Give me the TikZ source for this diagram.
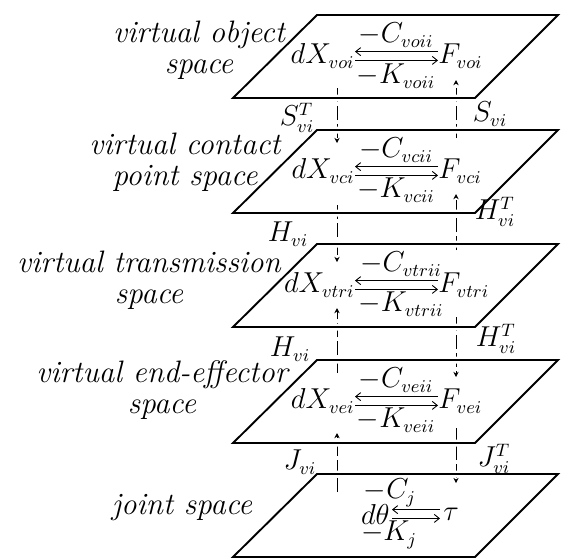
\documentclass[tikz,border=0pt]{standalone}
\usetikzlibrary{arrows.meta}
\begin{document}
\begin{tikzpicture}[x=0.5pt,y=-0.5pt,
  plane/.style={line width=0.95pt,line join=miter,preaction={draw=white,line width=3.5pt}},
  conn/.style={line width=0.5pt,dash pattern=on 7pt off 2pt,-{Stealth[length=2.6pt,width=2.6pt]}},
  pair/.style={line width=0.45pt,-{Straight Barb[length=2.5pt,width=4pt]}},
  lbl/.style={font=\fontsize{15.5}{15.5}\selectfont\itshape,align=center,inner sep=0pt},
  mth/.style={font=\fontsize{13.5}{15}\selectfont,inner sep=0pt},
]
\useasboundingbox (0,0) rectangle (568,559);

% connector end points
\coordinate (sTa) at (337,88);  \coordinate (sTb) at (337,143);
\coordinate (sa)  at (456,138); \coordinate (sb)  at (456,80);
\coordinate (h1a) at (337,205); \coordinate (h1b) at (337,262);
\coordinate (hT1a) at (456,250); \coordinate (hT1b) at (456,194);
\coordinate (h2a) at (337,373); \coordinate (h2b) at (337,308);
\coordinate (hT2a) at (456,317); \coordinate (hT2b) at (456,377);
\coordinate (ja)  at (337,492); \coordinate (jb)  at (337,433);
\coordinate (jTa) at (456,428); \coordinate (jTb) at (456,483);

\draw[conn] (sTa) -- (sTb);
\draw[conn] (sa) -- (sb);
\draw[conn] (h1a) -- (h1b);
\draw[conn] (hT1a) -- (hT1b);
\draw[conn] (h2a) -- (h2b);
\draw[conn] (hT2a) -- (hT2b);
\draw[conn] (ja) -- (jb);
\draw[conn] (jTa) -- (jTb);

% planes
\foreach \t in {15,130,244,360,474}{
  \draw[plane] (233,\t+83) -- (475,\t+83) -- (558,\t) -- (317,\t) -- cycle;
}

% space labels
\node[lbl] (l1) at (199,50) {virtual object\\space};
\node[lbl] (l2) at (185,162) {virtual contact\\point space};
\node[lbl] (l3) at (149,280) {virtual transmission\\space};
\node[lbl] (l4) at (162,390) {virtual end-effector\\space};
\node[lbl] (l5) at (182,508) {joint space};

% plane 1
\node[mth] (c1) at (396,35) {$-C_{voii}$};
\node[mth,anchor=east] (x1) at (355,56) {$dX_{voi}$};
\node[mth,anchor=west] (f1) at (438,56) {$F_{voi}$};
\node[mth] (k1) at (396,76) {$-K_{voii}$};
\draw[pair] ([yshift=2.2pt]f1.west) -- ([yshift=2.2pt]x1.east);
\draw[pair] ([yshift=-2.2pt]x1.east) -- ([yshift=-2.2pt]f1.west);

% plane 2
\node[mth] (c2) at (396,150) {$-C_{vcii}$};
\node[mth,anchor=east] (x2) at (355,171) {$dX_{vci}$};
\node[mth,anchor=west] (f2) at (438,171) {$F_{vci}$};
\node[mth] (k2) at (396,190) {$-K_{vcii}$};
\draw[pair] ([yshift=2.2pt]f2.west) -- ([yshift=2.2pt]x2.east);
\draw[pair] ([yshift=-2.2pt]x2.east) -- ([yshift=-2.2pt]f2.west);

% plane 3
\node[mth] (c3) at (401,264) {$-C_{vtrii}$};
\node[mth,anchor=east] (x3) at (355,285) {$dX_{vtri}$};
\node[mth,anchor=west] (f3) at (438,285) {$F_{vtri}$};
\node[mth] (k3) at (401,304) {$-K_{vtrii}$};
\draw[pair] ([yshift=2.2pt]f3.west) -- ([yshift=2.2pt]x3.east);
\draw[pair] ([yshift=-2.2pt]x3.east) -- ([yshift=-2.2pt]f3.west);

% plane 4
\node[mth] (c4) at (396,380) {$-C_{veii}$};
\node[mth,anchor=east] (x4) at (355,401) {$dX_{vei}$};
\node[mth,anchor=west] (f4) at (438,401) {$F_{vei}$};
\node[mth] (k4) at (396,420) {$-K_{veii}$};
\draw[pair] ([yshift=2.2pt]f4.west) -- ([yshift=2.2pt]x4.east);
\draw[pair] ([yshift=-2.2pt]x4.east) -- ([yshift=-2.2pt]f4.west);

% plane 5
\node[mth] (c5) at (390,493) {$-C_{j}$};
\node[mth,anchor=east] (x5) at (390,514) {$d\theta$};
\node[mth,anchor=west] (f5) at (443,514) {$\tau$};
\node[mth] (k5) at (389,535) {$-K_{j}$};
\draw[pair] ([yshift=2.2pt,xshift=-1.5pt]f5.west) -- ([yshift=2.2pt,xshift=1pt]x5.east);
\draw[pair] ([yshift=-2.2pt,xshift=1pt]x5.east) -- ([yshift=-2.2pt,xshift=-1.5pt]f5.west);

% mapping labels
\node[mth] (sTl) at (297,118) {$S^{T}_{vi}$};
\node[mth] (sl) at (490,114) {$S_{vi}$};
\node[mth] (hT1l) at (495,212) {$H^{T}_{vi}$};
\node[mth] (h1l) at (288,234) {$H_{vi}$};
\node[mth] (hT2l) at (496,339) {$H^{T}_{vi}$};
\node[mth] (h2l) at (290,349) {$H_{vi}$};
\node[mth] (jl) at (300,462) {$J_{vi}$};
\node[mth] (jTl) at (494,459) {$J^{T}_{vi}$};
\end{tikzpicture}
\end{document}
